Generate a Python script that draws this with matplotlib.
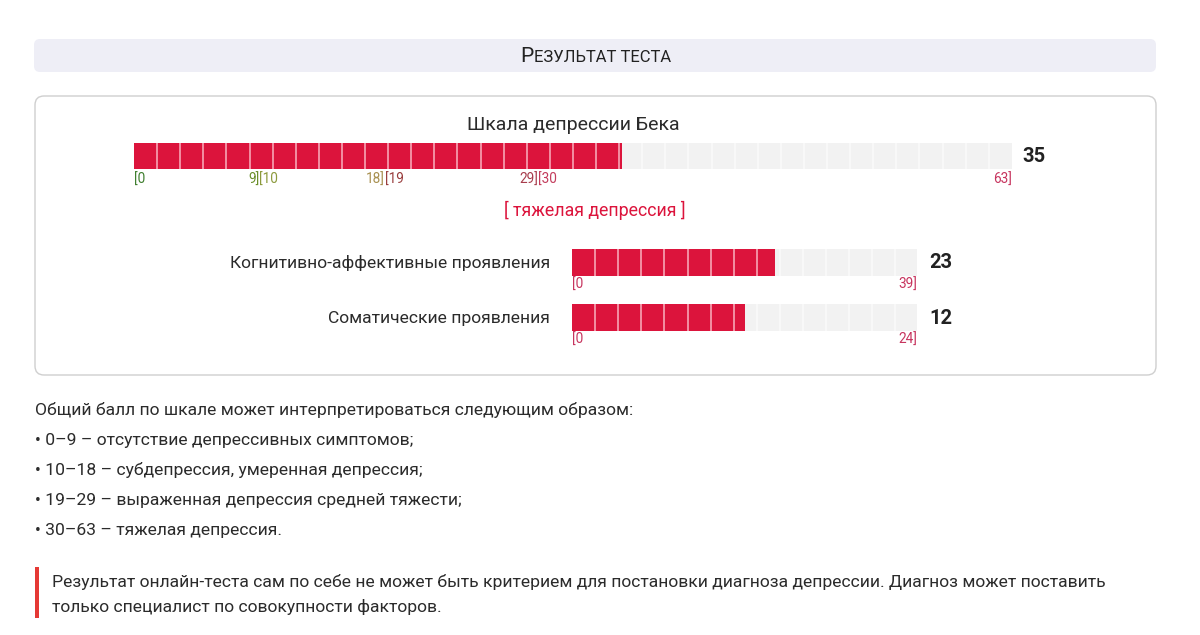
import matplotlib
matplotlib.use('Agg')
import matplotlib.pyplot as plt
import matplotlib.transforms as mtransforms
from matplotlib.patches import FancyBboxPatch, Rectangle

plt.rcParams['font.family'] = ['Roboto', 'DejaVu Sans']

# ---------------- data ----------------
header_first = "Р"
header_rest = "ЕЗУЛЬТАТ ТЕСТА"
scale_title = "Шкала депрессии Бека"
total_score = 35
total_max = 63
range_starts = [0, 10, 19, 30]
range_ends = [9, 18, 29, 63]
range_start_colors = ["#3f7f2f", "#8c9a3c", "#9a3e3e", "#c33c5c"]
range_end_colors = ["#6a8f2a", "#a89050", "#a83d4d", "#c7345e"]
verdict = "[ тяжелая депрессия ]"
sub_labels = ["Когнитивно-аффективные проявления", "Соматические проявления"]
sub_scores = [23, 12]
sub_max = [39, 24]
interp_intro = "Общий балл по шкале может интерпретироваться следующим образом:"
interp_items = [
    "• 0–9 – отсутствие депрессивных симптомов;",
    "• 10–18 – субдепрессия, умеренная депрессия;",
    "• 19–29 – выраженная депрессия средней тяжести;",
    "• 30–63 – тяжелая депрессия.",
]
note_lines = [
    "Результат онлайн-теста сам по себе не может быть критерием для постановки диагноза депрессии. Диагноз может поставить",
    "только специалист по совокупности факторов.",
]

# ---------------- figure ----------------
W, H = 1200, 635
fig = plt.figure(figsize=(W / 100, H / 100), dpi=100)
fig.patch.set_facecolor('white')
bg = fig.add_axes([0, 0, 1, 1])
bg.set_xlim(0, W)
bg.set_ylim(H, 0)
bg.axis('off')

TXT = "#2b2b2b"
BAR = "#dc143c"
EMPTY = "#f2f2f2"
BODY = 12.6

# header
bg.add_patch(FancyBboxPatch((34, 39), 1122, 33, boxstyle="round,pad=0,rounding_size=6",
                            facecolor="#eeeef6", edgecolor="none"))
fig.canvas.draw()
r = fig.canvas.get_renderer()
t1 = bg.text(0, 56.5, header_first, fontsize=15, color="#222222", va='center', ha='left')
t2 = bg.text(0, 57.2, header_rest, fontsize=12, color="#222222", va='center', ha='left')
w1 = t1.get_window_extent(r).width
w2 = t2.get_window_extent(r).width
start = 595 - (w1 + w2) / 2
t1.set_x(start)
t2.set_x(start + w1 + 0.5)

# panel
bg.add_patch(FancyBboxPatch((35, 96), 1121, 279, boxstyle="round,pad=0,rounding_size=9",
                            facecolor="white", edgecolor="#cfcfcf", linewidth=1))


def draw_bar(x0, y0, x1, y1, value, vmax):
    ax = fig.add_axes([x0 / W, 1 - y1 / H, (x1 - x0) / W, (y1 - y0) / H])
    ax.barh(0, vmax, height=1, color=EMPTY, linewidth=0)
    ax.barh(0, value, height=1, color=BAR, linewidth=0)
    ax.set_xlim(0, vmax)
    ax.set_ylim(-0.5, 0.5)
    ax.axis('off')
    seg = 23.1
    width = x1 - x0
    k = 1
    while k * seg < width - 2:
        xd = k * seg / width * vmax
        if xd < value:
            ax.axvline(xd, color="#f59aab", linewidth=1.3)
        else:
            ax.axvline(xd, color="#fafafa", linewidth=1.2)
        k += 1
    return ax


# main scale
bg.text(573, 125, scale_title, fontsize=14, color=TXT, ha='center', va='center')
ax_main = draw_bar(134, 143, 1012, 169, total_score, total_max)
bg.text(1022, 157, str(total_score), fontsize=14.5, fontweight='bold', color="#222222",
        ha='left', va='center')
tr = mtransforms.blended_transform_factory(ax_main.transData, bg.transData)
prev_end = [0] + range_ends[:-1]
for s, p, e, cs, ce in zip(range_starts, prev_end, range_ends, range_start_colors, range_end_colors):
    bg.text(p, 180, "[" + str(s), transform=tr, fontsize=9.8, color=cs, ha='left', va='center')
    bg.text(e, 180, str(e) + "]", transform=tr, fontsize=9.8, color=ce, ha='right', va='center')
bg.text(595, 210, verdict, fontsize=12.8, color=BAR, ha='center', va='center')

# sub scales
sub_y = [249, 304]
for lab, sc, mx, y in zip(sub_labels, sub_scores, sub_max, sub_y):
    bg.text(550, y + 14, lab, fontsize=BODY, color=TXT, ha='right', va='center')
    ax_s = draw_bar(572, y, 917, y + 27, sc, mx)
    bg.text(929, y + 14, str(sc), fontsize=14.5, fontweight='bold', color="#222222",
            ha='left', va='center')
    trs = mtransforms.blended_transform_factory(ax_s.transData, bg.transData)
    bg.text(0, y + 36, "[0", transform=trs, fontsize=9.8, color="#c7345e", ha='left', va='center')
    bg.text(mx, y + 36, str(mx) + "]", transform=trs, fontsize=9.8, color="#c7345e",
            ha='right', va='center')

# interpretation
bg.text(35, 410, interp_intro, fontsize=BODY, color=TXT, ha='left', va='center')
for i, item in enumerate(interp_items):
    bg.text(35, 440 + 30 * i, item, fontsize=BODY, color=TXT, ha='left', va='center')

# note
bg.add_patch(Rectangle((35, 567), 4, 51, facecolor="#e53935", edgecolor='none'))
for i, line in enumerate(note_lines):
    bg.text(52, 582 + 25 * i, line, fontsize=BODY, color=TXT, ha='left', va='center')

fig.savefig("out.png", dpi=100, facecolor='white')
